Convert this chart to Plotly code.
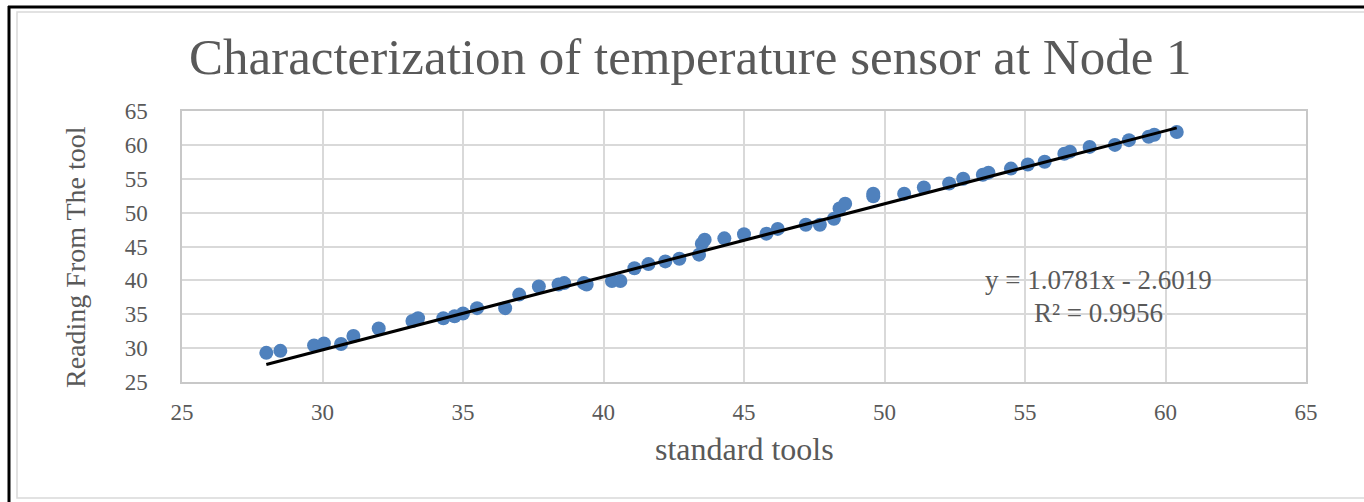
import plotly.graph_objects as go

# Data
standard_tools = [28.0, 28.5, 29.7, 30.05, 30.66, 31.1, 32.0, 33.2, 33.4, 34.3, 34.7,
                  35.0, 35.5, 36.5, 37.0, 37.7, 38.4, 38.6, 39.3, 39.4, 40.3, 40.6,
                  41.1, 41.6, 42.2, 42.7, 43.4, 43.5, 43.6, 44.3, 45.0, 45.8, 46.2,
                  47.2, 47.7, 48.2, 48.4, 48.6, 49.6, 49.6, 50.7, 51.4, 52.3, 52.8,
                  53.5, 53.7, 54.5, 55.1, 55.7, 56.4, 56.6, 57.3, 58.2, 58.7, 59.4,
                  59.6, 60.4]
reading_tool = [29.3, 29.6, 30.4, 30.7, 30.6, 31.8, 32.9, 34.0, 34.4, 34.4, 34.7,
                35.1, 35.9, 35.9, 37.9, 39.1, 39.4, 39.6, 39.6, 39.4, 39.9, 39.9,
                41.8, 42.4, 42.8, 43.2, 43.8, 45.4, 46.0, 46.2, 46.8, 46.9, 47.6,
                48.2, 48.2, 49.1, 50.6, 51.3, 52.4, 52.8, 52.8, 53.7, 54.3, 55.0,
                55.6, 55.9, 56.5, 57.1, 57.5, 58.7, 59.0, 59.7, 60.0, 60.7, 61.2,
                61.5, 61.9]
slope = 1.0781
intercept = -2.6019
r_squared = 0.9956
trend_x = [min(standard_tools), max(standard_tools)]
trend_y = [slope * v + intercept for v in trend_x]
axis_ticks = [25, 30, 35, 40, 45, 50, 55, 60, 65]

FONT = "Liberation Serif"
GRAY = "#595959"

W, H = 1364, 502
L, R, T, B = 182, 58, 111, 120
PW, PH = W - L - R, H - T - B


def px_x(p):
    return (p - L) / PW


def px_y(p):
    return (H - B - p) / PH


fig = go.Figure()
fig.add_trace(go.Scatter(
    x=standard_tools, y=reading_tool, mode="markers",
    marker=dict(color="#4F81BD", size=14, line=dict(width=0)),
    showlegend=False, hoverinfo="x+y"))
fig.add_trace(go.Scatter(
    x=trend_x, y=trend_y, mode="lines",
    line=dict(color="black", width=3), showlegend=False))

fig.add_annotation(
    x=px_x(1098), y=px_y(280), xref="paper", yref="paper",
    xanchor="center", yanchor="middle",
    text=f"y = {slope:.4f}x - {abs(intercept):.4f}",
    showarrow=False, font=dict(family=FONT, size=27, color=GRAY))
fig.add_annotation(
    x=px_x(1098), y=px_y(313), xref="paper", yref="paper",
    xanchor="center", yanchor="middle",
    text=f"R\u00b2 = {r_squared:.4f}",
    showarrow=False, font=dict(family=FONT, size=27, color=GRAY))

fig.add_annotation(
    x=px_x(75), y=px_y(257), xref="paper", yref="paper",
    xanchor="center", yanchor="middle", textangle=-90,
    text="Reading From The tool", showarrow=False,
    font=dict(family=FONT, size=28, color=GRAY))

fig.add_annotation(
    x=px_x(744), y=px_y(449), xref="paper", yref="paper",
    xanchor="center", yanchor="middle",
    text="standard tools", showarrow=False,
    font=dict(family=FONT, size=32, color=GRAY))

fig.add_annotation(
    x=px_x(690), y=px_y(57), xref="paper", yref="paper",
    xanchor="center", yanchor="middle",
    text="Characterization of temperature sensor at Node 1", showarrow=False,
    font=dict(family=FONT, size=51, color=GRAY))

fig.update_layout(
    width=W, height=H,
    paper_bgcolor="white", plot_bgcolor="white",
    margin=dict(l=L, r=R, t=T, b=B),
    xaxis=dict(range=[25, 65], tickvals=axis_ticks, showgrid=True,
               gridcolor="#d9d9d9", gridwidth=1.5, zeroline=False,
               showline=True, linecolor="#c8c8c8", linewidth=1.5, mirror=True,
               tickfont=dict(family=FONT, size=23, color=GRAY),
               ticks="", ticklabelstandoff=9, automargin=False),
    yaxis=dict(range=[25, 65], tickvals=axis_ticks, showgrid=True,
               gridcolor="#d9d9d9", gridwidth=1.5, zeroline=False,
               showline=True, linecolor="#c8c8c8", linewidth=1.5, mirror=True,
               tickfont=dict(family=FONT, size=23, color=GRAY),
               ticks="", ticklabelstandoff=28, automargin=False),
    shapes=[
        dict(type="line", xref="paper", yref="paper", x0=px_x(8), x1=px_x(1400),
             y0=px_y(7), y1=px_y(7),
             line=dict(color="black", width=3)),
        dict(type="line", xref="paper", yref="paper",
             x0=px_x(9), x1=px_x(9), y0=px_y(520), y1=px_y(6),
             line=dict(color="black", width=3)),
        dict(type="rect", xref="paper", yref="paper",
             x0=px_x(17), x1=px_x(1420), y0=px_y(498), y1=px_y(12),
             line=dict(color="#d9d9d9", width=1.5)),
    ],
)

# remove the browser's default page margin so the figure sits at (0, 0)
fig.write_html("out.html", config={"displayModeBar": False},
               post_script="document.body.style.margin='0';")
